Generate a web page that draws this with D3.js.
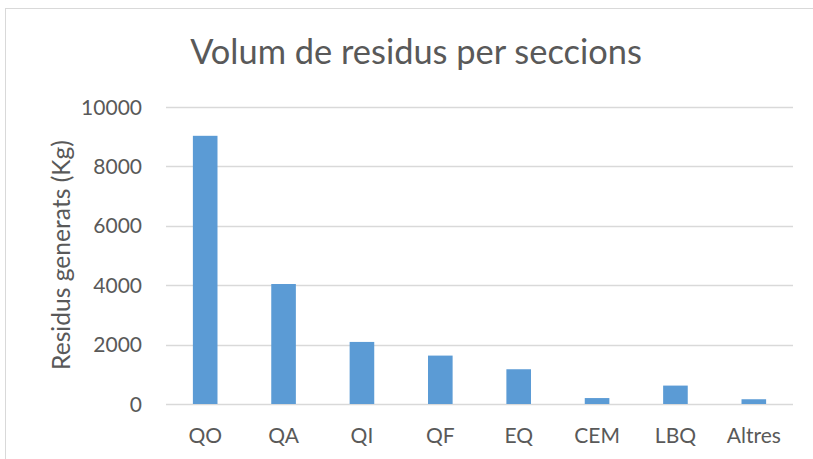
<!DOCTYPE html>
<html>
<head>
<meta charset="utf-8">
<script src="https://cdn.jsdelivr.net/npm/d3@7"></script>
<style>
  body { margin: 0; background: #fff; }
  text { font-family: Lato, "Open Sans", sans-serif; fill: #595959; }
</style>
</head>
<body>
<div id="chart"></div>
<script>
// data
var categories = ['QO', 'QA', 'QI', 'QF', 'EQ', 'CEM', 'LBQ', 'Altres'];
var values = [9030, 4040, 2090, 1630, 1170, 200, 620, 160];
var yTicks = [0, 2000, 4000, 6000, 8000, 10000];

var width = 813, height = 459;

var svg = d3.select('#chart').append('svg')
  .attr('width', width)
  .attr('height', height);

// chart frame (runs off the right/bottom edge)
svg.append('rect')
  .attr('x', 5.5).attr('y', 8.5)
  .attr('width', 900).attr('height', 600)
  .attr('fill', 'none')
  .attr('stroke', '#d9d9d9');

var x = d3.scaleBand()
  .domain(categories)
  .range([166, 793])
  .paddingInner(0.686)
  .paddingOuter(0.343);

var y = d3.scaleLinear()
  .domain([0, 10000])
  .range([404, 107]);

// shrink/grow a text to a given width
function fitWidth(sel, target) {
  var size = parseFloat(sel.style('font-size'));
  var len = sel.node().getComputedTextLength();
  sel.style('font-size', (size * target / len) + 'px');
}

// gridlines
svg.append('g')
  .selectAll('line')
  .data(yTicks)
  .enter()
  .append('line')
  .attr('x1', 166).attr('x2', 793)
  .attr('y1', function (d) { return Math.round(y(d)) + 0.5; })
  .attr('y2', function (d) { return Math.round(y(d)) + 0.5; })
  .attr('stroke', '#d9d9d9')
  .attr('stroke-width', 1.5);

// y tick labels
svg.append('g')
  .selectAll('text')
  .data(yTicks)
  .enter()
  .append('text')
  .attr('x', 142)
  .attr('y', function (d) { return y(d); })
  .attr('dy', '0.36em')
  .attr('text-anchor', 'end')
  .style('font-size', '21px')
  .text(function (d) { return d; });

// bars
svg.append('g')
  .selectAll('rect')
  .data(values)
  .enter()
  .append('rect')
  .attr('x', function (d, i) { return x(categories[i]); })
  .attr('width', x.bandwidth())
  .attr('y', function (d) { return y(d); })
  .attr('height', function (d) { return y(0) - y(d); })
  .attr('fill', '#5b9bd5');

// x labels
svg.append('g')
  .selectAll('text')
  .data(categories)
  .enter()
  .append('text')
  .attr('x', function (d) { return x(d) + x.bandwidth() / 2; })
  .attr('y', 443)
  .attr('text-anchor', 'middle')
  .style('font-size', '21px')
  .text(function (d) { return d; });

// title
var title = svg.append('text')
  .attr('x', 416)
  .attr('y', 64)
  .attr('text-anchor', 'middle')
  .style('font-size', '30px')
  .text('Volum de residus per seccions');
fitWidth(title, 452);

// y axis title
var yTitle = svg.append('text')
  .attr('transform', 'translate(70,255) rotate(-90)')
  .attr('text-anchor', 'middle')
  .style('font-size', '20px')
  .text('Residus generats (Kg)');
fitWidth(yTitle, 230);
</script>
</body>
</html>
